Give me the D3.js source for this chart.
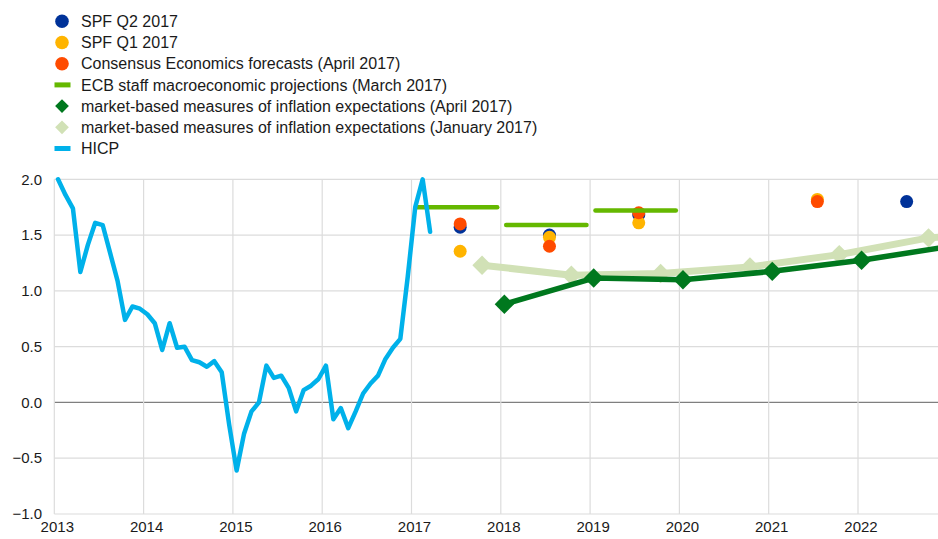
<!DOCTYPE html>
<html>
<head>
<meta charset="utf-8">
<script src="https://cdn.jsdelivr.net/npm/d3@7"></script>
<style>
  body { margin: 0; background: #fff; }
  svg text { font-family: "Liberation Sans", Arial, sans-serif; fill: #1a1a1a; }
</style>
</head>
<body>
<svg id="chart" width="938" height="539"></svg>
<script>
// monthly HICP, Jan 2013 .. Mar 2017
const hicpStart = 2013;
const hicpValues = [
  2.0, 1.86, 1.74, 1.17, 1.41, 1.61, 1.59, 1.34, 1.09, 0.74, 0.86, 0.84,
  0.79, 0.71, 0.47, 0.71, 0.49, 0.50, 0.38, 0.36, 0.32, 0.37, 0.27, -0.2,
  -0.61, -0.28, -0.08, 0.0, 0.33, 0.22, 0.24, 0.13, -0.08, 0.11, 0.15, 0.21,
  0.33, -0.15, -0.05, -0.23, -0.08, 0.08, 0.17, 0.24, 0.39, 0.49, 0.57, 1.13,
  1.75, 2.0, 1.53
];

const spfQ2Years = [2017, 2018, 2019, 2022];
const spfQ2Values = [1.57, 1.50, 1.68, 1.80];
const spfQ1Years = [2017, 2018, 2019, 2021];
const spfQ1Values = [1.355, 1.48, 1.61, 1.82];
const consensusYears = [2017, 2018, 2019, 2021];
const consensusValues = [1.60, 1.40, 1.70, 1.80];

const ecbYears = [2017, 2018, 2019];
const ecbValues = [1.75, 1.59, 1.72];

const mktAprYears = [2018, 2019, 2020, 2021, 2022, 2023];
const mktAprValues = [0.88, 1.115, 1.10, 1.175, 1.275, 1.40];
const mktJanYears = [2017, 2018, 2019, 2020, 2021, 2022, 2023];
const mktJanValues = [1.23, 1.14, 1.155, 1.215, 1.325, 1.475, 1.52];

const yTicks = [-1.0, -0.5, 0.0, 0.5, 1.0, 1.5, 2.0];
const xTicks = [2013, 2014, 2015, 2016, 2017, 2018, 2019, 2020, 2021, 2022];

const legendItems = [
  { label: 'SPF Q2 2017', type: 'dot', color: '#003299' },
  { label: 'SPF Q1 2017', type: 'dot', color: '#ffb400' },
  { label: 'Consensus Economics forecasts (April 2017)', type: 'dot', color: '#ff4b00' },
  { label: 'ECB staff macroeconomic projections (March 2017)', type: 'bar', color: '#65b800' },
  { label: 'market-based measures of inflation expectations (April 2017)', type: 'diamond', color: '#00781e' },
  { label: 'market-based measures of inflation expectations (January 2017)', type: 'diamond', color: '#d1e1b6' },
  { label: 'HICP', type: 'bar', color: '#00b1ea' }
];

const svg = d3.select('#chart');

const x = d3.scaleLinear().domain([2013, 2023]).range([54.3, 947.3]);
const y = d3.scaleLinear().domain([-1, 2]).range([514, 179.3]);

// grid
const grid = svg.append('g');
grid.selectAll('.hgrid')
  .data(yTicks)
  .join('line')
  .attr('x1', x(2013)).attr('x2', 938)
  .attr('y1', d => y(d)).attr('y2', d => y(d))
  .attr('stroke', d => d === 0 ? '#7f7f7f' : '#dcdcdc')
  .attr('stroke-width', d => d === 0 ? 1.3 : 1.2);
grid.selectAll('.vgrid')
  .data(xTicks)
  .join('line')
  .attr('x1', d => x(d)).attr('x2', d => x(d))
  .attr('y1', y(2)).attr('y2', y(-1))
  .attr('stroke', '#dcdcdc')
  .attr('stroke-width', 1.2);

// axis labels
svg.append('g').selectAll('text')
  .data(yTicks)
  .join('text')
  .attr('x', 42)
  .attr('y', d => y(d))
  .attr('dy', '0.35em')
  .attr('text-anchor', 'end')
  .attr('font-size', 15)
  .text(d => d3.format('.1f')(d));

svg.append('g').selectAll('text')
  .data(xTicks)
  .join('text')
  .attr('x', d => x(d) + 3)
  .attr('y', 532)
  .attr('text-anchor', 'middle')
  .attr('font-size', 15)
  .text(d => d);

// point forecasts (dots placed mid-year)
function dots(years, values, color) {
  svg.append('g').selectAll('circle')
    .data(years.map((yr, i) => ({ yr, v: values[i] })))
    .join('circle')
    .attr('cx', d => x(d.yr + 0.545))
    .attr('cy', d => y(d.v))
    .attr('r', 6.5)
    .attr('fill', color);
}
dots(spfQ2Years, spfQ2Values, '#003299');
dots(spfQ1Years, spfQ1Values, '#ffb400');
dots(consensusYears, consensusValues, '#ff4b00');

// ECB staff projections as annual bars
svg.append('g').selectAll('line')
  .data(ecbYears.map((yr, i) => ({ yr, v: ecbValues[i] })))
  .join('line')
  .attr('x1', d => x(d.yr + 0.06)).attr('x2', d => x(d.yr + 0.96))
  .attr('y1', d => y(d.v)).attr('y2', d => y(d.v))
  .attr('stroke', '#65b800')
  .attr('stroke-width', 4.5)
  .attr('stroke-linecap', 'round');

// market-based expectations
function diamondSeries(years, values, offset, color, lineW, size) {
  const pts = years.map((yr, i) => ({ px: x(yr + offset), py: y(values[i]) }));
  const g = svg.append('g');
  g.append('path')
    .datum(pts)
    .attr('d', d3.line().x(d => d.px).y(d => d.py))
    .attr('fill', 'none')
    .attr('stroke', color)
    .attr('stroke-width', lineW)
    .attr('stroke-linejoin', 'round');
  g.selectAll('path.mk')
    .data(pts)
    .join('path')
    .attr('class', 'mk')
    .attr('transform', d => `translate(${d.px},${d.py})`)
    .attr('d', d3.symbol(d3.symbolDiamond2, size))
    .attr('fill', color);
}
diamondSeries(mktJanYears, mktJanValues, 0.79, '#d1e1b6', 7, 240);
diamondSeries(mktAprYears, mktAprValues, 0.04, '#00781e', 5.5, 240);

// HICP
const hicpPts = hicpValues.map((v, i) => ({ t: hicpStart + (i + 0.5) / 12, v }));
svg.append('path')
  .datum(hicpPts)
  .attr('d', d3.line().x(d => x(d.t)).y(d => y(d.v)))
  .attr('fill', 'none')
  .attr('stroke', '#00b1ea')
  .attr('stroke-width', 4.5)
  .attr('stroke-linejoin', 'round')
  .attr('stroke-linecap', 'round');

// legend
const legend = svg.append('g');
const rows = legend.selectAll('g')
  .data(legendItems)
  .join('g')
  .attr('transform', (d, i) => `translate(62,${21.3 + i * 21.2})`);
rows.filter(d => d.type === 'dot').append('circle')
  .attr('r', 6.8)
  .attr('fill', d => d.color);
rows.filter(d => d.type === 'bar').append('rect')
  .attr('x', -7.5).attr('y', -2.5)
  .attr('width', 16).attr('height', 5)
  .attr('fill', d => d.color);
rows.filter(d => d.type === 'diamond').append('path')
  .attr('d', d3.symbol(d3.symbolDiamond2, 120))
  .attr('fill', d => d.color);
rows.append('text')
  .attr('x', 19)
  .attr('dy', '0.35em')
  .attr('font-size', 16)
  .text(d => d.label);
</script>
</body>
</html>
